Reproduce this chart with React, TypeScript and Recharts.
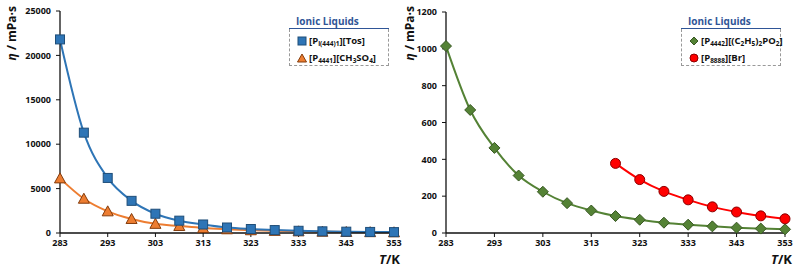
import React from "react";
import { LineChart, Line, XAxis, YAxis } from "recharts";

const temps = [283, 288, 293, 298, 303, 308, 313, 318, 323, 328, 333, 338, 343, 348, 353];
const tosValues = [21800, 11300, 6200, 3620, 2170, 1390, 960, 620, 450, 330, 250, 190, 150, 120, 100];
const ch3so4Values = [6150, 3860, 2440, 1580, 1030, 790, 560, 420, 310, 240, 185, 145, 115, 95, 80];
const phosValues = [1015, 668, 462, 312, 224, 162, 122, 92, 72, 56, 45, 36, 29, 24, 20];
const brTemps = [318, 323, 328, 333, 338, 343, 348, 353];
const brValues = [378, 290, 226, 180, 142, 114, 93, 77];

const xTicks = [283, 293, 303, 313, 323, 333, 343, 353];
const leftYTicks = [0, 5000, 10000, 15000, 20000, 25000];
const rightYTicks = [0, 200, 400, 600, 800, 1000, 1200];

const leftData = temps.map((t, i) => ({ T: t, tos: tosValues[i], ch3: ch3so4Values[i] }));
const rightData = temps.map((t, i) => {
  const j = brTemps.indexOf(t);
  return { T: t, phos: phosValues[i], br: j >= 0 ? brValues[j] : null };
});

const FONT = "'Open Sans', 'Liberation Sans', sans-serif";
const tickStyle = { fontSize: 9, fontWeight: 700, fill: "#111", fontFamily: FONT };

const SquareDot = (p: any) => {
  const { cx, cy, index } = p;
  if (cx == null || cy == null) return <g key={"s" + index} />;
  return <rect key={"s" + index} x={cx - 4.5} y={cy - 4.5} width={9} height={9} fill="#2e75b6" stroke="#1f4e79" strokeWidth={1} />;
};
const TriDot = (p: any) => {
  const { cx, cy, index } = p;
  if (cx == null || cy == null) return <g key={"t" + index} />;
  return <polygon key={"t" + index} points={`${cx},${cy - 5.5} ${cx + 5.5},${cy + 4.5} ${cx - 5.5},${cy + 4.5}`} fill="#ed7d31" stroke="#843c0c" strokeWidth={1} />;
};
const DiamondDot = (p: any) => {
  const { cx, cy, index } = p;
  if (cx == null || cy == null) return <g key={"d" + index} />;
  return <polygon key={"d" + index} points={`${cx},${cy - 5.5} ${cx + 5.5},${cy} ${cx},${cy + 5.5} ${cx - 5.5},${cy}`} fill="#548235" stroke="#385723" strokeWidth={1} />;
};
const CircleDot = (p: any) => {
  const { cx, cy, index, payload } = p;
  if (cx == null || cy == null || payload.br == null) return <g key={"c" + index} />;
  return <circle key={"c" + index} cx={cx} cy={cy} r={5} fill="#ff0000" stroke="#8b0000" strokeWidth={1} />;
};

const axisLine = { stroke: "#111", strokeWidth: 1.3 };

const YLabel = ({ left }: { left: number }) => (
  <div
    style={{
      position: "absolute",
      left,
      top: 6,
      fontFamily: FONT,
      fontWeight: 700,
      fontSize: 12,
      color: "#111",
      writingMode: "vertical-rl",
      transform: "rotate(180deg)",
      whiteSpace: "nowrap",
      lineHeight: "14px",
    }}
  >
    <i>η</i> / mPa·s
  </div>
);

const XLabel = ({ left }: { left: number }) => (
  <div style={{ position: "absolute", left, top: 250, fontFamily: FONT, fontWeight: 700, fontSize: 13, color: "#111", whiteSpace: "nowrap" }}>
    <i>T</i>/K
  </div>
);

const Legend = ({ left, width, items }: { left: number; width: number; items: { marker: React.ReactNode; label: React.ReactNode }[] }) => (
  <div style={{ position: "absolute", left, top: 15, width, fontFamily: FONT, fontWeight: 700 }}>
    <div style={{ fontSize: 10, color: "#2f5597", paddingLeft: 7, height: 13, lineHeight: "13px", borderBottom: "1.5px solid #2f5597" }}>Ionic Liquids</div>
    <div style={{ border: "1px dashed #999", borderTop: "none", height: 37, paddingTop: 3, boxSizing: "border-box", background: "#fff" }}>
      {items.map((it, i) => (
        <div key={i} style={{ display: "flex", alignItems: "center", height: 17, fontSize: 9.5, color: "#111", whiteSpace: "nowrap", paddingLeft: 7, overflow: "visible" }}>
          <svg width={10} height={10} style={{ marginRight: 2, flexShrink: 0 }}>{it.marker}</svg>
          <span style={{ flexShrink: 0 }}>{it.label}</span>
        </div>
      ))}
    </div>
  </div>
);

const sub = (s: string) => <sub style={{ fontSize: 6.5, verticalAlign: "-2px" }}>{s}</sub>;

export default function App() {
  return (
    <div style={{ position: "fixed", left: 0, top: 0, width: 800, height: 271, background: "#fff", overflow: "hidden" }}>
      <div style={{ position: "absolute", left: 0, top: 0 }}>
        <LineChart width={412} height={271} data={leftData} margin={{ top: 11, right: 18, bottom: 8, left: 0 }}>
          <XAxis dataKey="T" type="number" domain={[283, 353]} ticks={xTicks} tick={tickStyle} tickSize={4} tickMargin={3} axisLine={axisLine} tickLine={{ stroke: "#111" }} interval={0} height={30} />
          <XAxis xAxisId="top" orientation="top" dataKey="T" type="number" domain={[283, 353]} tick={false} tickLine={false} height={0} axisLine={axisLine} />
          <YAxis type="number" domain={[0, 25000]} ticks={leftYTicks} tick={tickStyle} width={60} tickSize={4} tickMargin={5} axisLine={axisLine} tickLine={{ stroke: "#111" }} interval={0} />
          <YAxis yAxisId="r" orientation="right" type="number" domain={[0, 25000]} tick={false} tickLine={false} width={0} axisLine={axisLine} />
          <Line type="monotone" dataKey="ch3" stroke="#ed7d31" strokeWidth={2} dot={TriDot} isAnimationActive={false} />
          <Line type="monotone" dataKey="tos" stroke="#2e75b6" strokeWidth={2} dot={SquareDot} isAnimationActive={false} />
        </LineChart>
      </div>
      <div style={{ position: "absolute", left: 400, top: 0 }}>
        <LineChart width={400} height={271} data={rightData} margin={{ top: 12, right: 15, bottom: 8, left: 0 }}>
          <XAxis dataKey="T" type="number" domain={[283, 353]} ticks={xTicks} tick={tickStyle} tickSize={4} tickMargin={3} axisLine={axisLine} tickLine={{ stroke: "#111" }} interval={0} height={30} />
          <XAxis xAxisId="top" orientation="top" dataKey="T" type="number" domain={[283, 353]} tick={false} tickLine={false} height={0} axisLine={axisLine} />
          <YAxis type="number" domain={[0, 1200]} ticks={rightYTicks} tick={tickStyle} width={46} tickSize={4} tickMargin={5} axisLine={axisLine} tickLine={{ stroke: "#111" }} interval={0} />
          <YAxis yAxisId="r" orientation="right" type="number" domain={[0, 1200]} tick={false} tickLine={false} width={0} axisLine={axisLine} />
          <Line type="monotone" dataKey="phos" stroke="#548235" strokeWidth={2} dot={DiamondDot} isAnimationActive={false} />
          <Line type="monotone" dataKey="br" stroke="#ff0000" strokeWidth={2} dot={CircleDot} isAnimationActive={false} />
        </LineChart>
      </div>
      <YLabel left={5} />
      <YLabel left={403} />
      <XLabel left={379} />
      <XLabel left={771} />
      <Legend
        left={289}
        width={100}
        items={[
          { marker: <rect x={1} y={1} width={8} height={8} fill="#2e75b6" stroke="#1f4e79" />, label: <>[P{sub("i(444)1")}][Tos]</> },
          { marker: <polygon points="5,1 9.5,9 0.5,9" fill="#ed7d31" stroke="#843c0c" />, label: <>[P{sub("4441")}][CH{sub("3")}SO{sub("4")}]</> },
        ]}
      />
      <Legend
        left={681}
        width={100}
        items={[
          { marker: <polygon points="5,1 9,5 5,9 1,5" fill="#548235" stroke="#385723" />, label: <>[P{sub("4442")}][(C{sub("2")}H{sub("5")}){sub("2")}PO{sub("2")}]</> },
          { marker: <circle cx={5} cy={5} r={4} fill="#ff0000" stroke="#8b0000" />, label: <>[P{sub("8888")}][Br]</> },
        ]}
      />
    </div>
  );
}
